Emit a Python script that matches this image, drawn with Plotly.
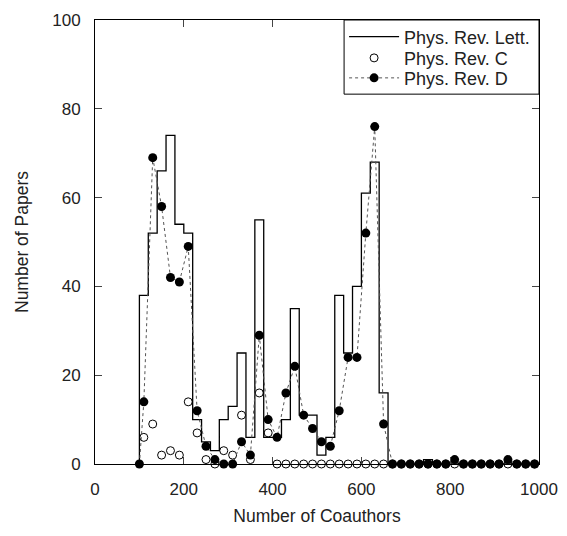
import plotly.graph_objects as go

# ---- data ----
# Phys. Rev. Lett. histogram: left edges of 20-wide bins and counts
prl_edges = [100, 120, 140, 160, 180, 200, 220, 240, 260, 280, 300, 320, 340, 360,
             380, 400, 420, 440, 460, 480, 500, 520, 540, 560, 580, 600, 620, 640,
             660, 680, 700, 720, 740, 760, 780, 800, 820, 840, 860, 880, 900, 920,
             940, 960, 980, 1000]
prl_counts = [38, 52, 66, 74, 54, 52, 10, 5, 3, 10, 13, 25, 6, 55,
              6, 6, 10, 35, 11, 11, 2, 6, 38, 25, 40, 61, 68, 16,
              0, 0, 0, 0, 1, 0, 0, 0, 0, 0, 0, 0, 0, 0,
              0, 0, 0, 0]

# Phys. Rev. C (open circles)
prc_x = [110, 130, 150, 170, 190, 210, 230, 250, 270, 290, 310, 330, 350, 370,
         390, 410, 430, 450, 470, 490, 510, 530, 550, 570, 590, 610, 630, 650,
         670, 690, 710, 730, 750, 770, 790, 810, 830, 850, 870, 890, 910, 930,
         950, 970, 990]
prc_y = [6, 9, 2, 3, 2, 14, 7, 1, 0, 3, 2, 11, 1, 16,
         7, 0, 0, 0, 0, 0, 0, 0, 0, 0, 0, 0, 0, 0,
         0, 0, 0, 0, 0, 0, 0, 0, 0, 0, 0, 0, 0, 0,
         0, 0, 0]

# Phys. Rev. D (filled circles, dotted line)
prd_x = [100, 110, 130, 150, 170, 190, 210, 230, 250, 270, 290, 310, 330, 350,
         370, 390, 410, 430, 450, 470, 490, 510, 530, 550, 570, 590, 610, 630,
         650, 670, 690, 710, 730, 750, 770, 790, 810, 830, 850, 870, 890, 910,
         930, 950, 970, 990]
prd_y = [0, 14, 69, 58, 42, 41, 49, 12, 4, 1, 0, 0, 5, 2,
         29, 10, 6, 16, 22, 11, 8, 5, 4, 12, 24, 24, 52, 76,
         9, 0, 0, 0, 0, 0, 0, 0, 1, 0, 0, 0, 0, 0,
         1, 0, 0, 0]

x_ticks = [0, 200, 400, 600, 800, 1000]
y_ticks = [0, 20, 40, 60, 80, 100]

FONT = "Liberation Sans, Arial, sans-serif"
TXT = "#222222"

fig = go.Figure()

# step outline: start at baseline on first edge
fig.add_trace(go.Scatter(
    x=[prl_edges[0]] + prl_edges,
    y=[0] + prl_counts,
    mode="lines",
    line=dict(shape="hv", color="black", width=1.3),
    name="Phys. Rev. Lett.",
    cliponaxis=False,
    legend="legend",
))

fig.add_trace(go.Scatter(
    x=prc_x, y=prc_y,
    mode="markers",
    marker=dict(symbol="circle-open", size=8, color="black", line=dict(width=1)),
    name="Phys. Rev. C",
    cliponaxis=False,
    legend="legend2",
))

fig.add_trace(go.Scatter(
    x=prd_x, y=prd_y,
    mode="lines+markers",
    line=dict(color="#555555", width=1, dash="dot"),
    marker=dict(symbol="circle", size=9, color="black"),
    name="Phys. Rev. D",
    cliponaxis=False,
    legend="legend3",
))

axis_common = dict(
    showline=True, linecolor="black", linewidth=1, mirror="ticks",
    ticks="inside", ticklen=7, tickcolor="#444444", tickwidth=1,
    showgrid=False, zeroline=False, automargin=False,
    tickfont=dict(family=FONT, size=17, color=TXT),
)

leg_common = dict(
    x=0.561, xanchor="left", yanchor="middle",
    bgcolor="rgba(0,0,0,0)", borderwidth=0,
    font=dict(family=FONT, size=18, color=TXT),
    itemwidth=50,
)

fig.update_layout(
    width=567, height=536,
    margin=dict(l=95, r=28, t=20, b=72, autoexpand=False),
    paper_bgcolor="white", plot_bgcolor="white",
    font=dict(family=FONT, size=17, color=TXT),
    xaxis=dict(range=[0, 1000], tickvals=x_ticks, ticklabelstandoff=10,
               title=dict(text="Number of Coauthors", font=dict(size=17.5), standoff=11),
               **axis_common),
    yaxis=dict(range=[0, 100], tickvals=y_ticks, ticklabelstandoff=10,
               title=dict(text="Number of Papers", font=dict(size=17.5), standoff=19),
               **axis_common),
    legend=dict(y=0.962, **leg_common),
    legend2=dict(y=0.914, **leg_common),
    legend3=dict(y=0.869, **leg_common),
    shapes=[dict(type="rect", xref="paper", yref="paper",
                 x0=0.561, x1=1, y0=0.833, y1=1,
                 line=dict(color="black", width=1), fillcolor="white",
                 layer="above")],
    showlegend=True,
)

fig.write_html("out.html", config={"displayModeBar": False},
               post_script="document.body.style.margin='0';")
